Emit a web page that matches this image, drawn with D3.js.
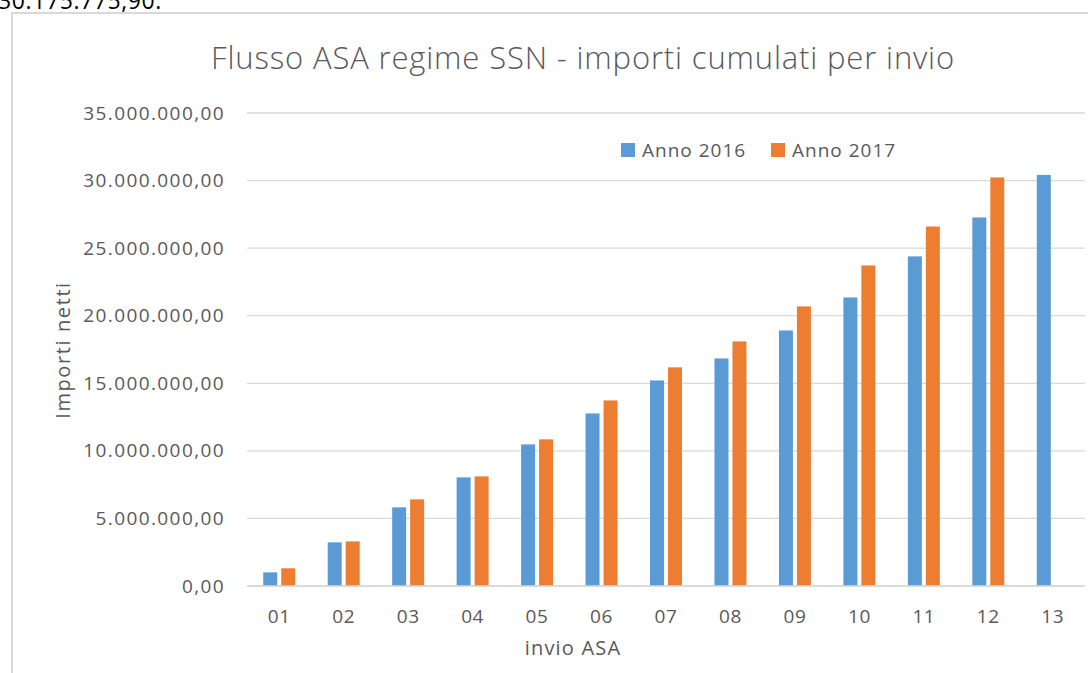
<!DOCTYPE html>
<html>
<head>
<meta charset="utf-8">
<script src="https://cdn.jsdelivr.net/npm/d3@7"></script>
<style>
  body { margin: 0; background: #fff; }
  svg { display: block; }
</style>
</head>
<body>
<script>
// data
const invii = ["01","02","03","04","05","06","07","08","09","10","11","12","13"];
const serie = ["Anno 2016", "Anno 2017"];
const anno2016 = [1010000, 3230000, 5820000, 8040000, 10480000, 12770000, 15210000, 16840000, 18910000, 21350000, 24390000, 27270000, 30420000];
const anno2017 = [1310000, 3300000, 6410000, 8110000, 10850000, 13730000, 16180000, 18100000, 20690000, 23720000, 26600000, 30230000, null];
const yTicks = [0, 5000000, 10000000, 15000000, 20000000, 25000000, 30000000, 35000000];
const colori = ["#5B9BD5", "#ED7D31"];

let width = 1088, height = 673;
let svg = d3.select("body").append("svg")
  .attr("width", width)
  .attr("height", height);

let font = "'Open Sans', sans-serif";
let grey = "#595959";

//numbers in italian format, 2 decimals
let itFmt = d3.formatLocale({decimal: ",", thousands: ".", grouping: [3], currency: ["€", ""]}).format(",.2f");

// text cut off above the chart (it is cut in the original too)
svg.append("text")
  .attr("x", -2).attr("y", 9)
  .attr("font-family", font).attr("font-size", 23)
  .attr("letter-spacing", 0.6)
  .attr("fill", "#000")
  .text("30.175.775,90.");

// chart border
svg.append("rect")
  .attr("x", 12).attr("y", 13)
  .attr("width", 1100).attr("height", 700)
  .attr("fill", "#fff")
  .attr("stroke", "#d9d9d9").attr("stroke-width", 2);

let margin = {left: 247, right: 3, top: 113, bottom: 87};
let innerW = width - margin.left - margin.right;
let innerH = height - margin.top - margin.bottom;

let x0 = d3.scaleBand().domain(invii).range([0, innerW])
  .paddingInner(0.504).paddingOuter(0.252);
let x1 = d3.scaleBand().domain(serie).range([0, x0.bandwidth()]).paddingInner(0.222);
let y = d3.scaleLinear().domain([0, 35000000]).range([innerH, 0]);

let g = svg.append("g").attr("transform", `translate(${margin.left},${margin.top})`);

// gridlines
g.append("g")
  .selectAll("line").data(yTicks).join("line")
  .attr("x1", 0).attr("x2", innerW)
  .attr("y1", d => y(d)).attr("y2", d => y(d))
  .attr("stroke", "#d9d9d9").attr("stroke-width", 1.3);

// y axis labels
let yAxis = d3.axisLeft(y).tickValues(yTicks).tickFormat(itFmt).tickSize(0).tickPadding(22);
let yG = g.append("g").call(yAxis);
yG.select(".domain").remove();
yG.selectAll("text").attr("font-family", font).attr("font-size", 19)
  .attr("letter-spacing", 1.4).attr("fill", grey);

// x axis labels
let xAxis = d3.axisBottom(x0).tickSize(0).tickPadding(24);
let xG = g.append("g").attr("transform", `translate(0,${innerH})`).call(xAxis);
xG.select(".domain").remove();
xG.selectAll("text").attr("font-family", font).attr("font-size", 19)
  .attr("letter-spacing", 0.6).attr("fill", grey);

// bars
let rows = invii.map((c, i) => ({cat: c, vals: [anno2016[i], anno2017[i]]}));
g.append("g").selectAll("g").data(rows).join("g")
  .attr("transform", d => `translate(${x0(d.cat)},0)`)
  .selectAll("rect")
  .data(d => d.vals.map((v, j) => ({s: serie[j], v: v, j: j})).filter(e => e.v != null))
  .join("rect")
    .attr("x", e => x1(e.s))
    .attr("width", x1.bandwidth())
    .attr("y", e => y(e.v))
    .attr("height", e => innerH - y(e.v))
    .attr("fill", e => colori[e.j]);

// baseline
g.append("line")
  .attr("x1", 0).attr("x2", innerW)
  .attr("y1", innerH).attr("y2", innerH)
  .attr("stroke", "#d9d9d9").attr("stroke-width", 1.5);

// title
svg.append("text")
  .attr("x", 583).attr("y", 69)
  .attr("text-anchor", "middle")
  .attr("font-family", font).attr("font-size", 31).attr("font-weight", 300)
  .attr("letter-spacing", 0.85)
  .attr("fill", grey)
  .text("Flusso ASA regime SSN - importi cumulati per invio");

// axis titles
svg.append("text")
  .attr("transform", "translate(70,350) rotate(-90)")
  .attr("text-anchor", "middle")
  .attr("font-family", font).attr("font-size", 20)
  .attr("letter-spacing", 1.6)
  .attr("fill", grey)
  .text("Importi netti");

svg.append("text")
  .attr("x", 573).attr("y", 655)
  .attr("text-anchor", "middle")
  .attr("font-family", font).attr("font-size", 20)
  .attr("letter-spacing", 1.2)
  .attr("fill", grey)
  .text("invio ASA");

// legend
let legend = svg.append("g").attr("transform", "translate(621,143)");
let legX = [0, 150];
let leg = legend.selectAll("g").data(serie).join("g")
  .attr("transform", (d, i) => `translate(${legX[i]},0)`);
leg.append("rect").attr("width", 14).attr("height", 14).attr("fill", (d, i) => colori[i]);
leg.append("text").attr("x", 21).attr("y", 14)
  .attr("font-family", font).attr("font-size", 19).attr("fill", grey)
  .attr("letter-spacing", 1)
  .text(d => d);
</script>
</body>
</html>
